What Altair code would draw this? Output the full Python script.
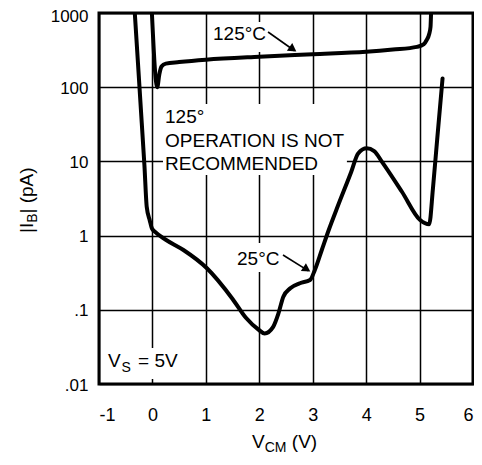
import altair as alt
import pandas as pd

FONT = "Liberation Sans"

# ---- data ----
v125 = [-0.01, 0.09, 0.13, 0.17, 0.25, 0.5, 1.0, 2.0, 3.0, 4.0, 4.5, 4.95, 5.08, 5.13, 5.18, 5.205, 5.215]
i125 = [1000, 100, 150, 190, 208, 218, 235, 258, 278, 300, 322, 350, 380, 430, 520, 650, 1000]

v25 = [-0.33, -0.27, -0.2, -0.15, -0.107, -0.05, -0.01, 0.05, 0.25, 0.58, 1.02, 1.5, 1.75, 2.0, 2.1,
       2.26, 2.36, 2.45, 2.58, 2.76, 2.95, 3.04, 3.17, 3.3, 3.47, 3.72, 3.85, 4.01, 4.15, 4.3, 4.67,
       5.01, 5.18, 5.25, 5.33, 5.43]
i25 = [1000, 208, 33, 8.9, 2.45, 1.6, 1.25, 1.12, 0.88, 0.64, 0.363, 0.14, 0.078, 0.053, 0.048,
       0.059, 0.09, 0.15, 0.195, 0.228, 0.252, 0.344, 0.64, 1.19, 2.5, 7.2, 12.8, 15, 13.8, 9.8, 3.9,
       1.62, 1.42, 4.3, 20, 131]

x_ticks = [-1, 0, 1, 2, 3, 4, 5, 6]
y_ticks = [0.01, 0.1, 1, 10, 100, 1000]

# annotation texts (data coordinates)
ann_text = ["125°C", "25°C", "125°", "OPERATION IS NOT", "RECOMMENDED", "V", "S", "= 5V"]
ann_v = [1.134, 1.583, 0.236, 0.236, 0.236, -0.831, -0.578, -0.27]
ann_i = [433, 0.402, 32.9, 15.6, 7.66, 0.01694, 0.01452, 0.01694]
ann_fs = [19, 19, 19, 19, 19, 19, 14, 19]

# white boxes behind labels
box_v = [1.08, 1.49, 0.198, -0.89]
box_v2 = [2.13, 2.41, 3.64, 0.52]
box_i = [757, 0.795, 59.4, 0.0305]
box_i2 = [298, 0.323, 6.56, 0.01167]

# arrows
arr_v = [2.164, 2.444]
arr_i = [555, 0.548]
arr_v2 = [2.66, 2.92]
arr_i2 = [310, 0.335]
head_v = [2.63, 2.89]
head_i = [325, 0.351]
head_ang = [34.6, 32.7]

# axis titles (pixel positions relative to plot area)
title_txt = ["V", "CM", "(V)", "|I", "B", "| (pA)"]
title_px = [153, 165.7, 192.8, -66, -62, -66]
title_py = [435, 439, 435, 220, 209.8, 200.5]
title_fs = [19, 14, 19, 19, 14, 19]
title_ang = [0, 0, 0, 270, 270, 270]

# ---- scales / encodings ----
xs = alt.Scale(domain=[-1, 6], nice=False, zero=False)
ys = alt.Scale(type="log", domain=[0.01, 1000], nice=False)

x_axis = alt.Axis(values=x_ticks, title=None, labelPadding=22, labelFontSize=18,
                  labelExpr="replace(datum.label, '\u2212', '-')")
y_axis = alt.Axis(values=y_ticks, title=None, labelPadding=11, labelFontSize=17,
                  labelOffset={"condition": {"test": "datum.value > 500", "value": 3}, "value": 1},
                  labelExpr="datum.value < 0.05 ? '.01' : datum.value < 0.5 ? '.1' : format(datum.value, 'd')")


def X(f="V"):
    return alt.X(f"{f}:Q", scale=xs, axis=x_axis)


def Y(f="I"):
    return alt.Y(f"{f}:Q", scale=ys, axis=y_axis)


curves = pd.concat([
    pd.DataFrame({"V": v125, "I": i125, "s": "125", "o": range(len(v125))}),
    pd.DataFrame({"V": v25, "I": i25, "s": "25", "o": range(len(v25))}),
])

boxes = alt.Chart(pd.DataFrame({"V": box_v, "V2": box_v2, "I": box_i, "I2": box_i2})).mark_rect(
    fill="white", stroke=None).encode(x=X(), x2="V2:Q", y=Y(), y2="I2:Q")

lines = alt.Chart(curves).mark_line(color="black", strokeWidth=4, interpolate="monotone",
                                    clip=True, strokeJoin="round", strokeCap="round").encode(
    x=X(), y=Y(), detail="s:N", order="o:Q")

arrows = alt.Chart(pd.DataFrame({"V": arr_v, "I": arr_i, "V2": arr_v2, "I2": arr_i2})).mark_rule(
    color="black", strokeWidth=1.6).encode(x=X(), x2="V2:Q", y=Y(), y2="I2:Q")

heads = alt.Chart(pd.DataFrame({"V": head_v, "I": head_i, "a": head_ang})).mark_point(
    shape="triangle-right", filled=True, color="black", opacity=1, size=90).encode(
    x=X(), y=Y(), angle=alt.Angle("a:Q", scale=None))

texts = alt.Chart(pd.DataFrame({"V": ann_v, "I": ann_i, "t": ann_text, "fs": ann_fs})).mark_text(
    font=FONT, align="left", baseline="alphabetic", color="black").encode(
    x=X(), y=Y(), text="t:N", size=alt.Size("fs:Q", scale=None))

layers = [boxes, lines, arrows, heads, texts]

for t, px, py, fs, ang in zip(title_txt, title_px, title_py, title_fs, title_ang):
    layers.append(
        alt.Chart(pd.DataFrame({"t": [t]})).mark_text(
            font=FONT, fontSize=fs, angle=ang, align="left", baseline="alphabetic", color="black"
        ).encode(x=alt.value(px), y=alt.value(py), text="t:N")
    )

chart = alt.layer(*layers).properties(
    width=374, height=371,
    padding={"left": 91, "top": 5, "right": 1, "bottom": 73},
    autosize=alt.AutoSizeParams(type="none"),
    background="white",
).configure_axis(
    labelFont=FONT, labelColor="black", gridColor="black", gridWidth=1.5, gridOpacity=1,
    ticks=False, domain=False,
).configure_view(stroke="black", strokeWidth=3)

chart.save("out.html", embed_options={"renderer": "svg", "actions": False})
